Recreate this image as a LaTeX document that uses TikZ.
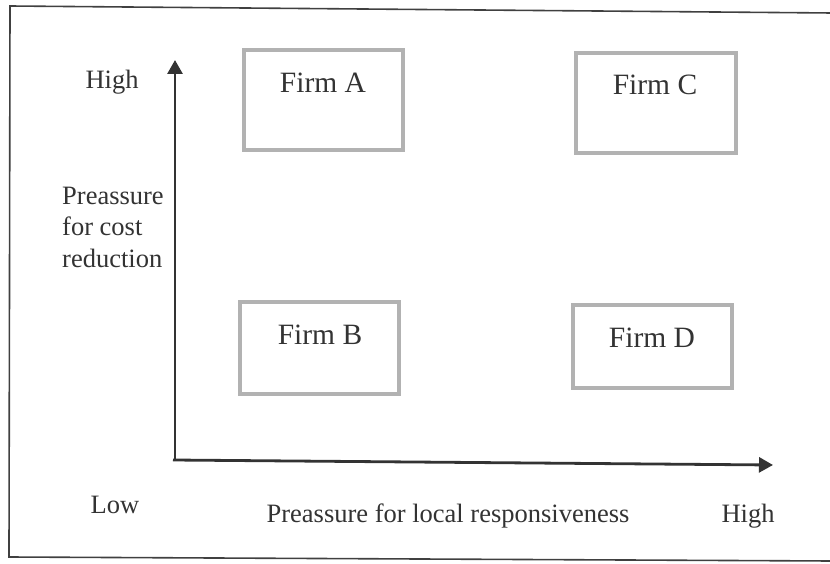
\documentclass[tikz,border=0pt]{standalone}
\usepackage{fontspec}
\setmainfont{Liberation Serif}
\usetikzlibrary{arrows.meta}
\begin{document}
\begin{tikzpicture}[x=1pt,y=-1pt,
  firm/.style={draw=black!30,line width=4pt,fill=white},
  lbl/.style={font=\fontsize{26.5}{31}\selectfont,text=black!80,inner sep=0pt,anchor=base},
  ftxt/.style={font=\fontsize{29.5}{32}\selectfont,text=black!80,inner sep=0pt,anchor=base},
  axis/.style={draw=black!80,line width=2.8pt,-{Triangle[length=14pt,width=15pt]}}]
\useasboundingbox (0,0) rectangle (830,564);
% frame
\draw[black!75,line width=1.6pt] (832,13) -- (10,6) -- (9,557) -- (832,561);
% boxes
\draw[firm] (244,50) rectangle (403,150);
\draw[firm] (576,53) rectangle (736,153);
\draw[firm] (240,302) rectangle (399,394);
\draw[firm] (573,305) rectangle (732,388);
\node[ftxt] (fa) at (323,93) {Firm A};
\node[ftxt] (fc) at (655,95) {Firm C};
\node[ftxt] (fb) at (320,344) {Firm B};
\node[ftxt] (fd) at (652,347) {Firm D};
% axes
\coordinate (ytop) at (175,60);
\coordinate (xend) at (773,465);
\draw[axis] (175,461) -- (ytop);
\draw[axis] (173,460) -- (xend);
% labels
\node[lbl] (hy) at (112,89) {High};
\node[lbl,anchor=base west] (py1) at (62,205) {Preassure};
\node[lbl,anchor=base west] (py2) at (62,236) {for cost};
\node[lbl,anchor=base west] (py3) at (62,267) {reduction};
\node[lbl] (low) at (115,513) {Low};
\node[lbl] (px) at (448,522) {Preassure for local responsiveness};
\node[lbl] (hx) at (748,522) {High};
\end{tikzpicture}
\end{document}
